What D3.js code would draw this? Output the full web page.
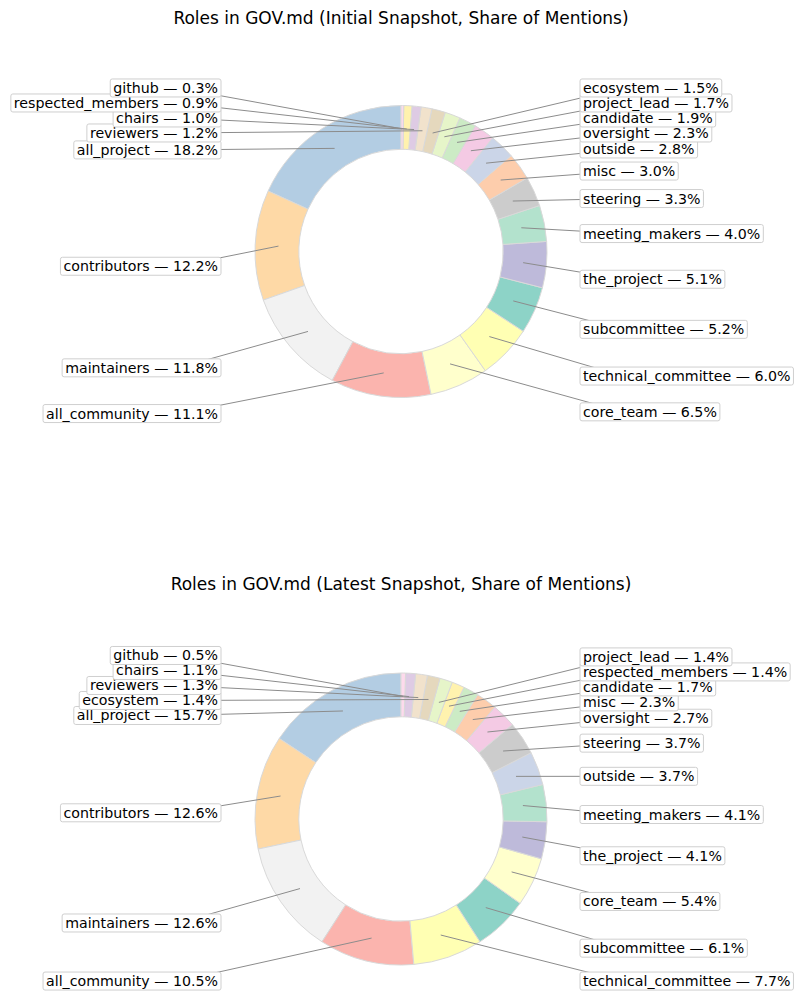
<!DOCTYPE html>
<html>
<head>
<meta charset="utf-8">
<script src="https://cdn.jsdelivr.net/npm/d3@7"></script>
<style>
  body { margin: 0; background: #fff; }
  text { font-family: 'DejaVu Sans', sans-serif; }
</style>
</head>
<body>
<div id="chart"></div>
<script>
// role -> colour (same colour for a role in both snapshots)
const roleNames = ['all_project', 'contributors', 'maintainers', 'all_community', 'core_team',
  'technical_committee', 'subcommittee', 'the_project', 'meeting_makers', 'steering', 'misc',
  'outside', 'oversight', 'candidate', 'project_lead', 'ecosystem', 'reviewers', 'chairs',
  'respected_members', 'github']
const roleColors = ['#b3cde3', '#fed9a6', '#f2f2f2', '#fbb4ae', '#ffffcc',
  '#ffffb3', '#8dd3c7', '#bebada', '#b3e2cd', '#cccccc', '#fdcdac',
  '#cbd5e8', '#f4cae4', '#ccebc5', '#e6f5c9', '#e5d8bd', '#f1e2cc', '#decbe4',
  '#fff2ae', '#fddaec']

// initial snapshot (descending, drawn counter-clockwise from 12 o'clock)
const initialRoles = ['all_project', 'contributors', 'maintainers', 'all_community', 'core_team',
  'technical_committee', 'subcommittee', 'the_project', 'meeting_makers', 'steering', 'misc',
  'outside', 'oversight', 'candidate', 'project_lead', 'ecosystem', 'reviewers', 'chairs',
  'respected_members', 'github']
const initialShares = [18.2, 12.2, 11.8, 11.1, 6.5, 6.0, 5.2, 5.1, 4.0, 3.3, 3.0,
  2.8, 2.3, 1.9, 1.7, 1.5, 1.2, 1.0, 0.9, 0.3]

// latest snapshot
const latestRoles = ['all_project', 'contributors', 'maintainers', 'all_community', 'technical_committee',
  'subcommittee', 'core_team', 'the_project', 'meeting_makers', 'outside', 'steering',
  'oversight', 'misc', 'candidate', 'respected_members', 'project_lead', 'ecosystem', 'reviewers',
  'chairs', 'github']
const latestShares = [15.7, 12.6, 12.6, 10.5, 7.7, 6.1, 5.4, 4.1, 4.1, 3.7, 3.7,
  2.7, 2.3, 1.7, 1.4, 1.4, 1.4, 1.3, 1.1, 0.5]

const titles = ['Roles in GOV.md (Initial Snapshot, Share of Mentions)',
  'Roles in GOV.md (Latest Snapshot, Share of Mentions)']

const width = 795
const height = 994
const R = 146
const innerR = R * 0.7
const cx = 401
const centersY = [251.5, 819]
const titleY = [18, 584]

const color = d3.scaleOrdinal().domain(roleNames).range(roleColors)

const svg = d3
  .select('#chart')
  .append('svg')
  .attr('width', width)
  .attr('height', height)

const pie = d3
  .pie()
  .sort(null)
  .value(d => d.share)
  .startAngle(0)
  .endAngle(-2 * Math.PI)

const arc = d3.arc().innerRadius(innerR).outerRadius(R)

function drawDonut(roles, shares, cy, title, ty) {
  const data = roles.map((r, i) => ({ role: r, share: shares[i] }))
  const arcs = pie(data)

  svg
    .append('text')
    .attr('x', cx)
    .attr('y', ty)
    .attr('text-anchor', 'middle')
    .attr('dy', '0.35em')
    .attr('font-size', '17px')
    .attr('fill', '#000')
    .text(title)

  const g = svg.append('g').attr('transform', `translate(${cx},${cy})`)

  g.selectAll('path')
    .data(arcs)
    .enter()
    .append('path')
    .attr('d', arc)
    .attr('fill', d => color(d.data.role))
    .attr('stroke', '#d9d9d9')
    .attr('stroke-width', 1)

  // label placement: side by x of the slice middle, y spread to avoid overlap
  const labels = arcs.map(d => {
    const mid = (d.startAngle + d.endAngle) / 2
    const sx = Math.sin(mid)
    const cy0 = Math.cos(mid)
    const side = sx > 0.24 ? 1 : -1
    const natural = side > 0 ? 1.1 * R * cy0 - 0.09 * R : 1.0 * R * cy0 - 0.145 * R
    return {
      d: d,
      side: side,
      ax: 0.84 * R * sx,
      ay: -0.84 * R * cy0,
      natural: natural,
      text: `${d.data.role} — ${d.data.share.toFixed(1)}%`
    }
  })

  const gap = 15
  const top = 1.12 * R
  const bottom = -1.11 * R
  ;[-1, 1].forEach(side => {
    const list = labels.filter(l => l.side === side).sort((a, b) => a.natural - b.natural)
    list.forEach((l, i) => {
      l.off = i === 0 ? Math.max(l.natural, bottom) : Math.max(l.natural, list[i - 1].off + gap)
    })
    for (let i = list.length - 1; i >= 0; i--) {
      if (i === list.length - 1) list[i].off = Math.min(list[i].off, top)
      else list[i].off = Math.min(list[i].off, list[i + 1].off - gap)
    }
  })

  labels.forEach(l => {
    l.ly = -l.off
    l.lx = l.side > 0 ? 182 : -183
  })

  // leader lines first, boxes drawn on top of them
  g.selectAll('line.leader')
    .data(labels)
    .enter()
    .append('line')
    .attr('class', 'leader')
    .attr('x1', d => d.ax)
    .attr('y1', d => d.ay)
    .attr('x2', d => d.lx + d.side * 40)
    .attr('y2', d => d.ly)
    .attr('stroke', '#8c8c8c')
    .attr('stroke-width', 1)

  const lab = g.selectAll('g.lab')
    .data(labels)
    .enter()
    .append('g')
    .attr('class', 'lab')

  const rects = lab.append('rect')
  const texts = lab
    .append('text')
    .attr('x', d => d.lx)
    .attr('y', d => d.ly)
    .attr('dy', '0.35em')
    .attr('font-size', '14.2px')
    .attr('text-anchor', d => (d.side > 0 ? 'start' : 'end'))
    .attr('fill', '#000')
    .text(d => d.text)

  texts.each(function(d) {
    const b = this.getBBox()
    d.box = b
  })
  rects
    .attr('x', d => d.box.x - 3)
    .attr('y', d => d.ly - 9)
    .attr('width', d => d.box.width + 6)
    .attr('height', 18)
    .attr('rx', 2)
    .attr('fill', '#fff')
    .attr('stroke', '#cfcfcf')
    .attr('stroke-width', 1)
}

drawDonut(initialRoles, initialShares, centersY[0], titles[0], titleY[0])
drawDonut(latestRoles, latestShares, centersY[1], titles[1], titleY[1])
</script>
</body>
</html>
